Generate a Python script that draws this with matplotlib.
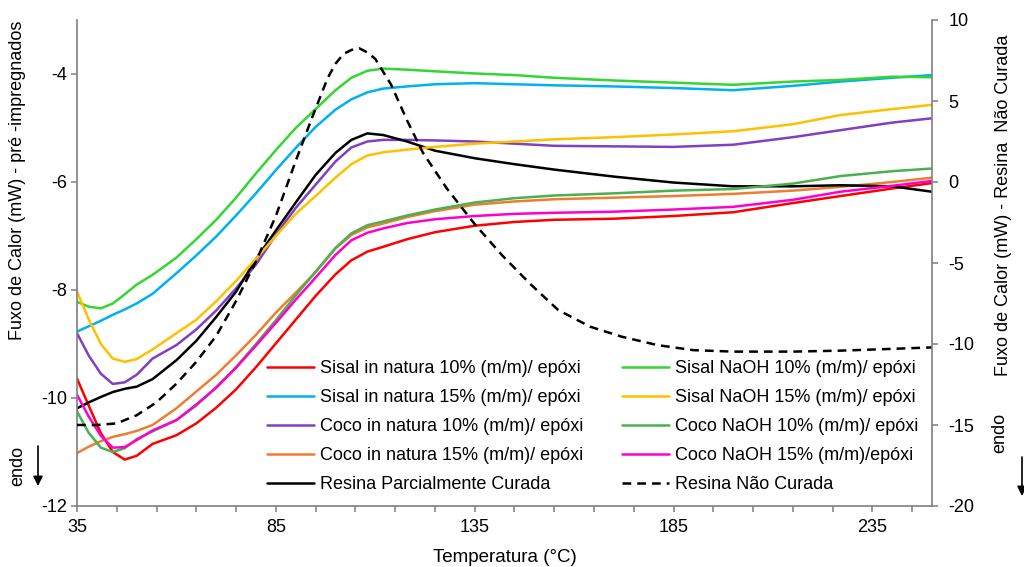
import matplotlib
matplotlib.use("Agg")
import matplotlib.pyplot as plt

plt.rcParams['font.family'] = ['Liberation Sans', 'DejaVu Sans']
plt.rcParams['axes.unicode_minus'] = False

# Shared temperature grid (°C) for the composite curves
temperature = [35, 38, 41, 44, 47, 50, 54, 60, 65, 70, 75, 80, 85, 90, 95, 100, 104,
               108, 112, 118, 125, 135, 145, 155, 170, 185, 200, 215, 227, 240, 250]

sisal_nat_10 = [-9.64, -10.15, -10.65, -11.0, -11.14, -11.07, -10.85, -10.69, -10.47, -10.18,
                -9.84, -9.43, -8.99, -8.55, -8.11, -7.71, -7.45, -7.29, -7.20, -7.06, -6.93,
                -6.81, -6.74, -6.70, -6.68, -6.63, -6.56, -6.39, -6.26, -6.12, -6.02]
sisal_nat_15 = [-8.77, -8.67, -8.57, -8.46, -8.36, -8.25, -8.07, -7.69, -7.36, -7.01, -6.62,
                -6.21, -5.78, -5.37, -4.98, -4.66, -4.47, -4.34, -4.27, -4.23, -4.19, -4.17,
                -4.19, -4.21, -4.23, -4.26, -4.30, -4.22, -4.14, -4.07, -4.02]
coco_nat_10 = [-8.80, -9.22, -9.55, -9.74, -9.71, -9.57, -9.27, -9.02, -8.73, -8.38, -7.97,
               -7.53, -6.98, -6.48, -6.05, -5.62, -5.36, -5.25, -5.22, -5.22, -5.23, -5.25,
               -5.29, -5.33, -5.34, -5.35, -5.31, -5.17, -5.04, -4.90, -4.82]
coco_nat_15 = [-11.02, -10.90, -10.80, -10.72, -10.67, -10.61, -10.50, -10.19, -9.88, -9.57,
               -9.21, -8.83, -8.42, -8.05, -7.67, -7.23, -6.98, -6.84, -6.77, -6.65, -6.54,
               -6.42, -6.36, -6.32, -6.29, -6.26, -6.22, -6.16, -6.09, -6.00, -5.92]
resina_parcial = [-10.19, -10.08, -9.98, -9.89, -9.83, -9.79, -9.65, -9.30, -8.94, -8.50,
                  -8.03, -7.43, -6.90, -6.38, -5.87, -5.46, -5.22, -5.10, -5.13, -5.25, -5.42,
                  -5.56, -5.67, -5.77, -5.90, -6.01, -6.08, -6.08, -6.06, -6.08, -6.18]
sisal_naoh_10 = [-8.22, -8.31, -8.34, -8.25, -8.08, -7.90, -7.72, -7.40, -7.06, -6.70, -6.29,
                 -5.84, -5.41, -5.00, -4.65, -4.30, -4.07, -3.94, -3.90, -3.92, -3.95, -3.99,
                 -4.02, -4.07, -4.12, -4.16, -4.20, -4.14, -4.11, -4.05, -4.06]
sisal_naoh_15 = [-8.03, -8.55, -9.00, -9.27, -9.33, -9.28, -9.10, -8.80, -8.55, -8.21, -7.83,
                 -7.42, -7.00, -6.59, -6.26, -5.92, -5.67, -5.51, -5.45, -5.40, -5.35, -5.29,
                 -5.25, -5.21, -5.17, -5.12, -5.06, -4.93, -4.76, -4.65, -4.57]
coco_naoh_10 = [-10.25, -10.65, -10.92, -11.0, -10.93, -10.76, -10.62, -10.41, -10.14, -9.80,
                -9.43, -9.00, -8.56, -8.10, -7.66, -7.22, -6.95, -6.80, -6.73, -6.62, -6.51,
                -6.38, -6.30, -6.25, -6.21, -6.16, -6.13, -6.03, -5.89, -5.80, -5.75]
coco_naoh_15 = [-9.94, -10.35, -10.70, -10.92, -10.91, -10.78, -10.60, -10.41, -10.12, -9.81,
                -9.44, -9.03, -8.61, -8.18, -7.77, -7.35, -7.08, -6.94, -6.86, -6.76, -6.69,
                -6.63, -6.59, -6.57, -6.55, -6.51, -6.46, -6.33, -6.18, -6.07, -5.98]

# Uncured resin (right axis)
temperature_resina = [35, 40, 45, 50, 55, 60, 65, 70, 75, 80, 85, 90, 94, 98, 100, 102, 104,
                      106, 108, 110, 114, 118, 122, 128, 135, 142, 149, 156, 164, 172, 181,
                      190, 200, 215, 227, 240, 250]
resina_nao_curada = [-15.0, -15.0, -14.9, -14.4, -13.6, -12.45, -11.1, -9.5, -7.35, -4.9, -2.1,
                     1.3, 3.9, 6.4, 7.3, 7.9, 8.15, 8.25, 8.0, 7.6, 6.0, 3.8, 1.8, -0.4, -2.6,
                     -4.55, -6.3, -7.9, -8.93, -9.55, -10.07, -10.38, -10.47, -10.47, -10.41,
                     -10.3, -10.21]

labels = ["Sisal in natura 10% (m/m)/ epóxi", "Sisal in natura 15% (m/m)/ epóxi",
          "Coco in natura 10% (m/m)/ epóxi", "Coco in natura 15% (m/m)/ epóxi",
          "Resina Parcialmente Curada",
          "Sisal NaOH 10% (m/m)/ epóxi", "Sisal NaOH 15% (m/m)/ epóxi",
          "Coco NaOH 10% (m/m)/ epóxi", "Coco NaOH 15% (m/m)/epóxi",
          "Resina Não Curada"]
colors = ["#FF0000", "#00B0F0", "#8040C0", "#ED7D31", "#000000",
          "#33D633", "#FFC000", "#4CAF50", "#FF00CC", "#000000"]

series_left = [sisal_nat_10, sisal_nat_15, coco_nat_10, coco_nat_15, resina_parcial,
               sisal_naoh_10, sisal_naoh_15, coco_naoh_10, coco_naoh_15]

W, H = 1024, 567
fig = plt.figure(figsize=(W / 100, H / 100), dpi=100)
ax = fig.add_axes([77 / W, 1 - 506 / H, (932 - 77) / W, (506 - 20) / H])
ax2 = ax.twinx()

handles = []
for vals, lab, col in zip(series_left, labels[:9], colors[:9]):
    h, = ax.plot(temperature, vals, color=col, lw=1.8, label=lab,
                 solid_capstyle='round', solid_joinstyle='round')
    handles.append(h)
h2, = ax2.plot(temperature_resina, resina_nao_curada, color='black', lw=1.8,
               dashes=(3.5, 2.4), label=labels[9])
handles.append(h2)

ax.set_xlim(35, 250)
ax.set_ylim(-12, -3)
ax2.set_ylim(-20, 10)
ax.set_xticks([35, 85, 135, 185, 235])
ax.set_xticks([45, 55, 65, 75, 95, 105, 115, 125, 145, 155, 165, 175, 195, 205, 215, 225, 245],
              minor=True)
ax.set_yticks([-12, -10, -8, -6, -4])
ax2.set_yticks([-20, -15, -10, -5, 0, 5, 10])

spine_col = '#7f7f7f'
for a in (ax, ax2):
    a.spines['top'].set_visible(False)
    for s in ('left', 'right', 'bottom'):
        a.spines[s].set_color(spine_col)
        a.spines[s].set_linewidth(1.2)
ax.spines['right'].set_visible(False)
ax2.spines['left'].set_visible(False)
ax2.spines['bottom'].set_visible(False)

ax.tick_params(axis='x', which='both', direction='out', length=4, width=1.1, color=spine_col,
               labelsize=13, pad=5)
ax.tick_params(axis='y', direction='out', length=4, width=1.1, color=spine_col,
               labelsize=13, pad=3)
ax2.tick_params(axis='y', direction='out', length=4, width=1.1, color=spine_col,
                labelsize=13, pad=8)

leg = fig.legend(handles=handles, labels=labels, loc='upper left',
                 bbox_to_anchor=(267 / W, 1 - 360 / H), ncol=2, frameon=False, fontsize=13,
                 handlelength=2.6, handletextpad=0.35, columnspacing=2.1, labelspacing=0.67,
                 borderpad=0, borderaxespad=0)

fig.text(505 / W, 1 - 557 / H, "Temperatura (°C)", ha='center', va='center', fontsize=13.5)
fig.text(18 / W, 1 - 180 / H, "Fuxo de Calor (mW) - pré -impregnados", rotation=90,
         ha='center', va='center', fontsize=13)
fig.text(1003 / W, 1 - 205 / H, "Fuxo de Calor (mW) - Resina  Não Curada", rotation=90,
         ha='center', va='center', fontsize=13)
fig.text(18 / W, 1 - 466 / H, "endo", rotation=90, ha='center', va='center', fontsize=13)
fig.text(1000 / W, 1 - 433 / H, "endo", rotation=90, ha='center', va='center', fontsize=13)

for x0, y0, y1 in ((38, 446, 486), (1022, 457, 496)):
    ax.annotate('', xy=(x0 / W, 1 - y1 / H), xytext=(x0 / W, 1 - y0 / H),
                xycoords='figure fraction', textcoords='figure fraction',
                arrowprops=dict(arrowstyle='-|>', color='black', lw=1.2,
                                mutation_scale=14, shrinkA=0, shrinkB=0),
                annotation_clip=False)

fig.savefig("out.png", dpi=100)
